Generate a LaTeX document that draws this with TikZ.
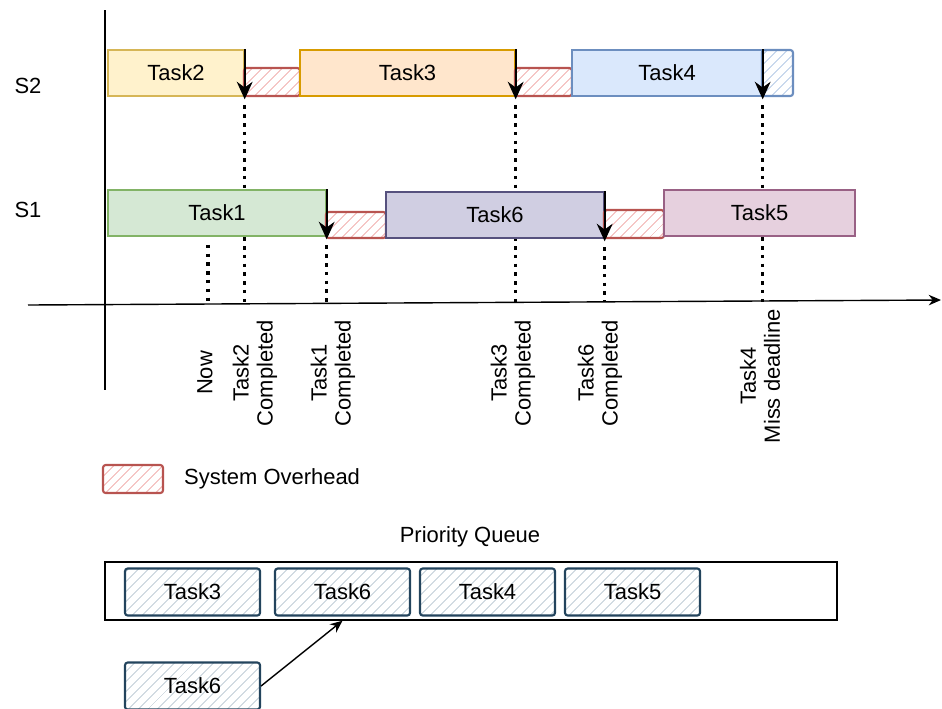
\documentclass[tikz,border=0pt]{standalone}
\usepackage{fontspec}
\setmainfont{Liberation Sans}
\usetikzlibrary{arrows.meta,patterns.meta,backgrounds}

\definecolor{yfill}{HTML}{FFF2CC}\definecolor{ydraw}{HTML}{D6B656}
\definecolor{ofill}{HTML}{FFE6CC}\definecolor{odraw}{HTML}{D79B00}
\definecolor{bfill}{HTML}{DAE8FC}\definecolor{bdraw}{HTML}{6C8EBF}
\definecolor{gfill}{HTML}{D5E8D4}\definecolor{gdraw}{HTML}{82B366}
\definecolor{pfill}{HTML}{D0CEE2}\definecolor{pdraw}{HTML}{56517E}
\definecolor{mfill}{HTML}{E6D0DE}\definecolor{mdraw}{HTML}{996185}
\definecolor{ovred}{HTML}{B85450}\definecolor{ovhatch}{HTML}{EFA9A7}
\definecolor{qdraw}{HTML}{23445D}\definecolor{qhatch}{HTML}{BAC8D3}

\tikzset{
  taskbox/.style={draw, line width=0.8pt, minimum height=0.92cm, inner sep=0pt},
  overhead/.style={draw=ovred, line width=1.2pt, rounded corners=1.5pt,
    pattern={Lines[angle=45,distance=4pt,line width=0.5pt]}, pattern color=ovhatch,
    minimum width=1.2cm, minimum height=0.56cm, inner sep=0pt},
  qtask/.style={draw=qdraw, line width=1.2pt, rounded corners=1.5pt,
    pattern={Lines[angle=45,distance=4pt,line width=0.5pt]}, pattern color=qhatch,
    minimum width=2.7cm, minimum height=0.94cm, inner sep=0pt},
  donearrow/.style={-{Stealth[length=10pt,width=9pt]}, line width=1.2pt, shorten >=-1.5pt},
  dotline/.style={line width=2pt, dash pattern=on 2pt off 3pt, shorten <=5pt},
  vlabel/.style={rotate=90, align=center}
}

\begin{document}
\begin{tikzpicture}[x=0.02cm, y=-0.02cm, font=\fontsize{12.5}{13.6}\selectfont]
        \useasboundingbox (0,0) rectangle (942,708);

        % Disegna assi
        \draw[line width=0.8pt] (105,10) -- (105,390);
        \draw[line width=0.8pt,-{Stealth[length=7pt,width=6pt]}] (28,305) -- (941,300);
        \coordinate (ax) at (0,302); % quota asse tempo

        \node (s2) at (28,86) {S2};
        \node (s1) at (28,210) {S1};

        % Riga S2
        \node[taskbox, fill=yfill, draw=ydraw, minimum width=2.72cm] (t2) at (176,73) {Task2};
        \node[overhead, minimum width=1.12cm] (o1) at (272,82) {};
        \node[taskbox, fill=ofill, draw=odraw, minimum width=4.3cm] (t3) at (407.5,73) {Task3};
        \node[overhead, minimum width=1.14cm] (o2) at (543.5,82) {};
        \node[taskbox, fill=bfill, draw=bdraw, minimum width=3.8cm] (t4) at (667,73) {Task4};
        \node[draw=bdraw, line width=1.2pt, rounded corners=1.5pt, minimum width=0.62cm, minimum height=0.92cm,
              pattern={Lines[angle=45,distance=4pt,line width=0.5pt]}, pattern color=bfill!60!bdraw] (t4x) at (777.5,73) {};

        % Riga S1
        \node[taskbox, fill=gfill, draw=gdraw, minimum width=4.36cm] (t1) at (217,213) {Task1};
        \node[overhead, minimum height=0.52cm] (o3) at (356,225) {};
        \node[taskbox, fill=pfill, draw=pdraw, minimum width=4.36cm] (t6) at (495,215) {Task6};
        \node[overhead] (o4) at (634,224) {};
        \node[taskbox, fill=mfill, draw=mdraw, minimum width=3.82cm] (t5) at (759.5,213) {Task5};

        % Frecce di fine task
        \draw[donearrow] (t2.north east) -- (t2.south east);
        \draw[donearrow] (t3.north east) -- (t3.south east);
        \draw[donearrow] (t4.north east) -- (t4.south east);
        \draw[donearrow] (t1.north east) -- (t1.south east);
        \draw[donearrow] (t6.north east) -- (t6.south east);

        % Linee tratteggiate verso l'asse (dietro ai box)
        \coordinate (now) at (208,236);
        \begin{pgfonlayer}{background}
        \draw[dotline] (now) -- (now |- ax);
        \draw[dotline] (t2.south east) -- (t2.south east |- ax);
        \draw[dotline] (t1.south east) -- (t1.south east |- ax);
        \draw[dotline] (t3.south east) -- (t3.south east |- ax);
        \draw[dotline] (t6.south east) -- (t6.south east |- ax);
        \draw[dotline] (t4.south east) -- (t4.south east |- ax);
        \end{pgfonlayer}

        % Etichette verticali
        \node[vlabel] (lnow) at (205,373) {Now};
        \node[vlabel] (l2) at (255,373) {Task2\\Completed};
        \node[vlabel] (l1) at (333,373) {Task1\\Completed};
        \node[vlabel] (l3) at (513,373) {Task3\\Completed};
        \node[vlabel] (l6) at (600,373) {Task6\\Completed};
        \node[vlabel] (l4) at (760,376) {Task4\\Miss deadline};

        % Legenda
        \node[overhead] (leg) at (133,479) {};
        \node[anchor=west] (legtxt) at (178,479) {System Overhead};

        % Coda di priorita
        \node (qtitle) at (470,537) {Priority Queue};
        \node[draw, line width=0.8pt, minimum width=14.64cm, minimum height=1.16cm] (q) at (471,591) {};
        \node[qtask] (q3) at (192.5,592) {Task3};
        \node[qtask] (q6) at (342.5,592) {Task6};
        \node[qtask] (q4) at (487.5,592) {Task4};
        \node[qtask] (q5) at (632.5,592) {Task5};

        \node[qtask] (nt6) at (192.5,686) {Task6}; % task in arrivo
        \draw[line width=0.8pt,-{Stealth[length=7pt,width=6pt]}] (nt6.east) -- (q6.south |- q.south);
    \end{tikzpicture}
\end{document}
